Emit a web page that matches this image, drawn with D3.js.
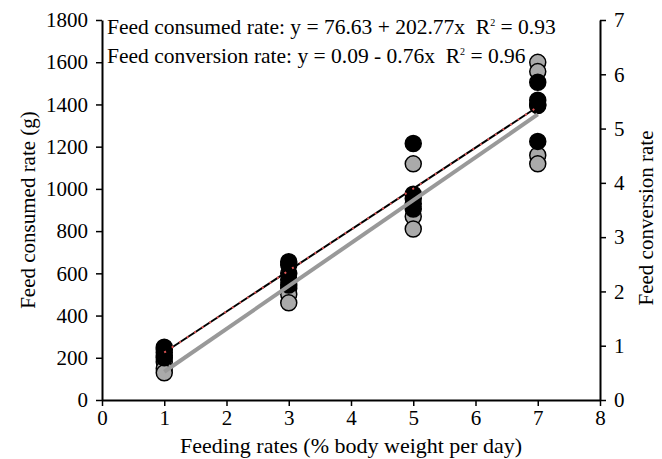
<!DOCTYPE html>
<html lang="en">
<head>
  <meta charset="UTF-8">
  <title>Feed consumed and conversion rate</title>
  <script src="https://d3js.org/d3.v7.min.js"></script>
  <style>
    body { margin: 0; background: #fff; }
    text { font-family: "Liberation Serif", "Times New Roman", serif; }
  </style>
</head>
<body>
  <svg width="662" height="459"></svg>

  <script>
    // feeding rate groups (% body weight per day)
    const feedingRates = [1, 3, 5, 7];

    // feed consumed (g), black dots, left axis
    const consumedX = [1, 1, 1, 1, 1, 3, 3, 3, 3, 3, 5, 5, 5, 5, 5, 7, 7, 7, 7, 7];
    const consumedY = [250, 240, 225, 210, 200, 655, 640, 600, 570, 545, 1215, 975, 955, 930, 905, 1505, 1420, 1400, 1395, 1225];

    // feed conversion rate, grey dots, right axis
    const conversionX = [1, 1, 1, 3, 3, 3, 5, 5, 5, 7, 7, 7, 7];
    const conversionY = [0.70, 0.58, 0.50, 2.06, 1.95, 1.79, 4.35, 3.38, 3.15, 6.22, 6.05, 4.51, 4.35];

    // fitted lines as drawn (intercept, slope)
    const consumedFit = [31, 194];
    const conversionFit = [-0.27, 0.79];

    const leftTicks = [0, 200, 400, 600, 800, 1000, 1200, 1400, 1600, 1800];
    const rightTicks = [0, 1, 2, 3, 4, 5, 6, 7];
    const xTicks = [0, 1, 2, 3, 4, 5, 6, 7, 8];

    const margin = { top: 20, right: 62, bottom: 59, left: 102 };
    const width = 662 - margin.left - margin.right;
    const height = 459 - margin.top - margin.bottom;

    const svg = d3.select("svg")
      .append("g")
      .attr("transform", "translate(" + margin.left + "," + margin.top + ")");

    const x = d3.scaleLinear().domain([0, 8]).range([0, width]);
    const yL = d3.scaleLinear().domain([0, 1800]).range([height, 0]);
    const yR = d3.scaleLinear().domain([0, 7]).range([height, 0]);

    // axes
    function styleAxis(g) {
      g.attr("font-family", null).attr("font-size", null);
      g.select(".domain").attr("stroke", "#000").attr("stroke-width", 2);
      g.selectAll(".tick line").attr("stroke", "#000").attr("stroke-width", 1.5);
      g.selectAll(".tick text")
        .style("font-size", "21px")
        .attr("fill", "#000");
    }

    const fmt = d3.format("d");

    svg.append("g")
      .attr("transform", "translate(0," + height + ")")
      .call(d3.axisBottom(x).tickValues(xTicks).tickFormat(fmt).tickSize(6).tickSizeOuter(0).tickPadding(4))
      .call(styleAxis);

    svg.append("g")
      .call(d3.axisLeft(yL).tickValues(leftTicks).tickFormat(fmt).tickSize(6).tickSizeOuter(0).tickPadding(8))
      .call(styleAxis);

    svg.append("g")
      .attr("transform", "translate(" + width + ",0)")
      .call(d3.axisRight(yR).tickValues(rightTicks).tickFormat(fmt).tickSize(6).tickSizeOuter(0).tickPadding(8))
      .call(styleAxis);

    // grey dots (conversion rate)
    const conv = conversionX.map((d, i) => ({ x: d, y: conversionY[i] }));
    svg.selectAll(".conv")
      .data(conv)
      .enter().append("circle")
      .attr("class", "conv")
      .attr("cx", d => x(d.x))
      .attr("cy", d => yR(d.y))
      .attr("r", 8)
      .attr("fill", "#aaaaaa")
      .attr("stroke", "#000")
      .attr("stroke-width", 1.5);

    // black dots (consumed)
    const cons = consumedX.map((d, i) => ({ x: d, y: consumedY[i] }));
    svg.selectAll(".cons")
      .data(cons)
      .enter().append("circle")
      .attr("class", "cons")
      .attr("cx", d => x(d.x))
      .attr("cy", d => yL(d.y))
      .attr("r", 8)
      .attr("fill", "#000")
      .attr("stroke", "#000")
      .attr("stroke-width", 1.5);

    // regression lines
    const x0 = d3.min(feedingRates), x1 = d3.max(feedingRates);
    const line = d3.line().x(d => x(d[0])).y(d => d[1]);

    svg.append("path")
      .attr("d", line([[x0, yR(conversionFit[0] + conversionFit[1] * x0)], [x1, yR(conversionFit[0] + conversionFit[1] * x1)]]))
      .attr("stroke", "#999999")
      .attr("stroke-width", 4)
      .attr("fill", "none");

    const consLine = [[x0, yL(consumedFit[0] + consumedFit[1] * x0)], [x1, yL(consumedFit[0] + consumedFit[1] * x1)]];
    svg.append("path")
      .attr("d", line(consLine))
      .attr("stroke", "#000")
      .attr("stroke-width", 2)
      .attr("fill", "none");
    svg.append("path")
      .attr("d", line(consLine))
      .attr("stroke", "#e05555")
      .attr("stroke-width", 2)
      .attr("stroke-dasharray", "2,7")
      .attr("fill", "none");

    // equations
    const eq = svg.append("g").style("font-size", "21.5px");
    const t1 = eq.append("text").attr("x", 5).attr("y", 14);
    t1.append("tspan").text("Feed consumed rate: y = 76.63 + 202.77x\u00a0\u00a0R");
    t1.append("tspan").attr("dy", -8).style("font-size", "10px").text("2");
    t1.append("tspan").attr("dy", 8).text(" = 0.93");

    const t2 = eq.append("text").attr("x", 5).attr("y", 43);
    t2.append("tspan").text("Feed conversion rate: y = 0.09 - 0.76x\u00a0\u00a0R");
    t2.append("tspan").attr("dy", -8).style("font-size", "10px").text("2");
    t2.append("tspan").attr("dy", 8).text(" = 0.96");

    // axis titles
    svg.append("text")
      .attr("x", width / 2)
      .attr("y", height + 53)
      .attr("text-anchor", "middle")
      .style("font-size", "22px")
      .text("Feeding rates (% body weight per day)");

    svg.append("text")
      .attr("transform", "rotate(-90)")
      .attr("x", -height / 2)
      .attr("y", -margin.left + 35)
      .attr("text-anchor", "middle")
      .style("font-size", "21px")
      .text("Feed consumed rate (g)");

    svg.append("text")
      .attr("transform", "rotate(-90)")
      .attr("x", -height / 2 - 8)
      .attr("y", width + 53)
      .attr("text-anchor", "middle")
      .style("font-size", "21px")
      .text("Feed conversion rate");
  </script>
</body>
</html>
